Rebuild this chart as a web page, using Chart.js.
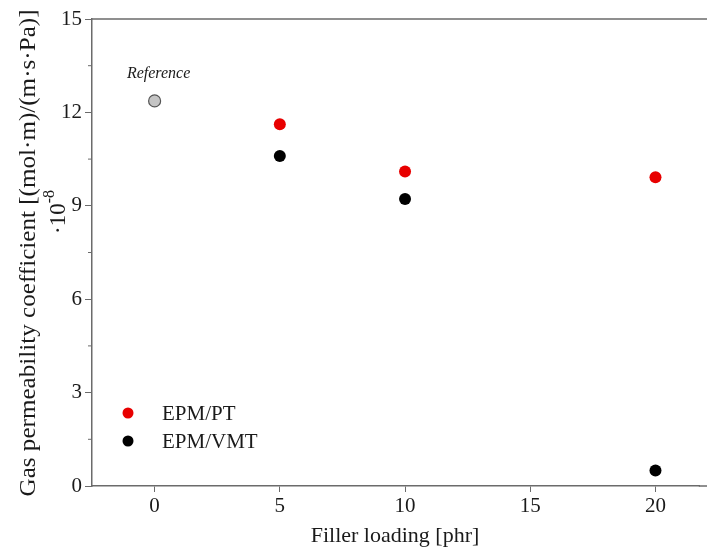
<!DOCTYPE html>
<html>
<head>
<meta charset="utf-8">
<script src="https://cdn.jsdelivr.net/npm/chart.js@4.4.0/dist/chart.umd.min.js"></script>
<style>
  html, body { margin: 0; padding: 0; background: #fff; }
  #wrap { width: 707px; height: 551px; }
</style>
</head>
<body>
<div id="wrap"><canvas id="grafico"></canvas></div>
<script>
// DATI
const fillerLoading = [5, 10, 20];
const valoriPT = [11.62, 10.1, 9.92];
const valoriVMT = [10.6, 9.22, 0.5];
const riferimento = [{ x: 0, y: 12.37 }];
const yTicks = [0, 3, 6, 9, 12, 15];
const yMinori = [1.5, 4.5, 7.5, 10.5, 13.5];
const xTicks = [0, 5, 10, 15, 20];

const SERIF = "'Liberation Serif', 'DejaVu Serif', serif";
const GRIGIO = '#6b6b6b';

// PLUGIN: bordi, tacche minori, titoli, legenda, etichetta "Reference"
const decorazioni = {
  id: 'decorazioni',
  afterDraw(chart) {
    const { ctx, chartArea, scales } = chart;
    ctx.save();
    ctx.strokeStyle = GRIGIO;
    ctx.lineWidth = 1.5;
    ctx.beginPath();
    ctx.moveTo(chartArea.left, chartArea.top);
    ctx.lineTo(chart.width, chartArea.top);
    ctx.moveTo(chartArea.right - 1, chartArea.bottom);
    ctx.lineTo(chart.width, chartArea.bottom);
    ctx.stroke();

    ctx.lineWidth = 1;
    yMinori.forEach(v => {
      const py = scales.y.getPixelForValue(v);
      ctx.beginPath();
      ctx.moveTo(chartArea.left - 4, py);
      ctx.lineTo(chartArea.left, py);
      ctx.stroke();
    });

    ctx.fillStyle = '#1a1a1a';
    // titolo asse x
    ctx.font = `22px ${SERIF}`;
    ctx.textAlign = 'center';
    ctx.textBaseline = 'middle';
    ctx.fillText('Filler loading [phr]', 395, 536);

    // titolo asse y (due righe)
    const titoloY = 'Gas permeability coefficient [(mol\u00b7m)/(m\u00b7s\u00b7Pa)]';
    ctx.save();
    ctx.translate(29, 253);
    ctx.rotate(-Math.PI / 2);
    ctx.font = `22px ${SERIF}`;
    const larghezza = ctx.measureText(titoloY).width;
    ctx.scale(487 / larghezza, 1.08);
    ctx.fillText(titoloY, 0, 0);
    ctx.restore();

    ctx.save();
    ctx.translate(59, 212);
    ctx.rotate(-Math.PI / 2);
    ctx.textAlign = 'left';
    ctx.font = `23px ${SERIF}`;
    const base = '\u00b710';
    const w = ctx.measureText(base).width;
    ctx.font = `16px ${SERIF}`;
    const w2 = ctx.measureText('-8').width;
    const start = -(w + w2) / 2;
    ctx.font = `23px ${SERIF}`;
    ctx.fillText(base, start, 0);
    ctx.font = `16px ${SERIF}`;
    ctx.fillText('-8', start + w, -9);
    ctx.restore();

    // etichetta Reference
    ctx.font = `italic 16px ${SERIF}`;
    ctx.textAlign = 'center';
    ctx.fillText('Reference', scales.x.getPixelForValue(0) + 4, 74);

    // legenda
    const voci = [
      { testo: 'EPM/PT', colore: chart.data.datasets[0].backgroundColor, y: 413 },
      { testo: 'EPM/VMT', colore: chart.data.datasets[1].backgroundColor, y: 441 }
    ];
    voci.forEach(v => {
      ctx.fillStyle = v.colore;
      ctx.beginPath();
      ctx.arc(128, v.y, 5.5, 0, Math.PI * 2);
      ctx.fill();
      ctx.fillStyle = '#1a1a1a';
      ctx.font = `21px ${SERIF}`;
      ctx.textAlign = 'left';
      ctx.fillText(v.testo, 162, v.y + 1);
    });
    ctx.restore();
  }
};

const ctx = document.getElementById('grafico').getContext('2d');
new Chart(ctx, {
  type: 'scatter',
  data: {
    datasets: [
      { label: 'EPM/PT', data: fillerLoading.map((x, i) => ({ x, y: valoriPT[i] })),
        backgroundColor: '#e80000', borderColor: '#e80000', pointRadius: 6, borderWidth: 0 },
      { label: 'EPM/VMT', data: fillerLoading.map((x, i) => ({ x, y: valoriVMT[i] })),
        backgroundColor: '#000000', borderColor: '#000000', pointRadius: 6, borderWidth: 0 },
      { label: 'Reference', data: riferimento,
        backgroundColor: '#c4c4c4', borderColor: '#555555', pointRadius: 6, borderWidth: 1.2 }
    ]
  },
  options: {
    responsive: true,
    maintainAspectRatio: false,
    animation: false,
    layout: { padding: { top: 19, right: 0, left: 0, bottom: 0 } },
    plugins: { legend: { display: false }, tooltip: { enabled: false } },
    scales: {
      x: {
        type: 'linear', min: -2.5, max: 21.77,
        afterBuildTicks: s => { s.ticks = xTicks.map(v => ({ value: v })); },
        afterFit: s => { s.height = 65; },
        grid: { drawOnChartArea: false, tickLength: 6, tickColor: GRIGIO },
        border: { color: GRIGIO, width: 1.5 },
        ticks: { color: '#1a1a1a', font: { family: SERIF, size: 21 }, padding: 2 }
      },
      y: {
        type: 'linear', min: 0, max: 15,
        afterBuildTicks: s => { s.ticks = yTicks.map(v => ({ value: v })); },
        afterFit: s => { s.width = 92; },
        grid: { drawOnChartArea: false, tickLength: 7, tickColor: GRIGIO },
        border: { color: GRIGIO, width: 1.5 },
        ticks: { color: '#1a1a1a', font: { family: SERIF, size: 21 }, padding: 3 }
      }
    }
  },
  plugins: [decorazioni]
});
</script>
</body>
</html>
